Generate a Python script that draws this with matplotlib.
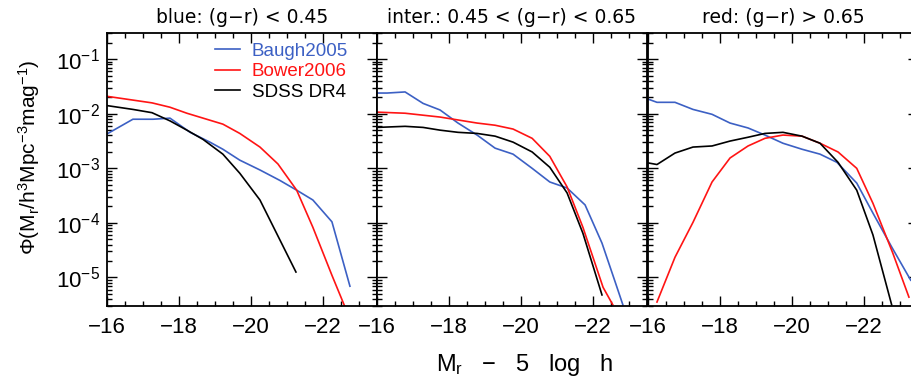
import numpy as np
import matplotlib
matplotlib.use("Agg")
import matplotlib.pyplot as plt
from matplotlib.ticker import MultipleLocator, LogLocator, NullFormatter

plt.rcParams['font.family'] = ['Liberation Sans', 'DejaVu Sans']
plt.rcParams['mathtext.fontset'] = 'custom'
plt.rcParams['mathtext.rm'] = 'Liberation Sans'
plt.rcParams['mathtext.it'] = 'Liberation Sans'

titles = ['blue: (g\u2212r) < 0.45',
          'inter.: 0.45 < (g\u2212r) < 0.65',
          'red: (g\u2212r) > 0.65']

# luminosity functions, log10(Phi)
baugh_mag = [
    [-16.0, -16.72, -17.28, -17.75, -18.31, -18.86, -19.22, -19.69, -20.25,
     -20.8, -21.27, -21.72, -22.25, -22.75],
    [-16.0, -16.28, -16.78, -17.28, -17.75, -18.25, -18.78, -19.28, -19.78,
     -20.31, -20.8, -21.28, -21.78, -22.25, -22.6, -22.83],
    [-16.0, -16.25, -16.75, -17.25, -17.78, -18.28, -18.78, -19.25, -19.75,
     -20.28, -20.78, -21.25, -21.8, -22.25, -22.77, -23.3],
]
baugh_logphi = [
    [-2.37, -2.10, -2.10, -2.08, -2.34, -2.52, -2.65, -2.85, -3.03,
     -3.22, -3.40, -3.58, -3.98, -5.16],
    [-1.62, -1.62, -1.60, -1.81, -1.93, -2.17, -2.39, -2.63, -2.74,
     -3.00, -3.25, -3.36, -3.67, -4.37, -5.05, -5.5],
    [-1.73, -1.79, -1.79, -1.92, -2.01, -2.17, -2.26, -2.39, -2.54,
     -2.65, -2.74, -2.89, -3.27, -3.82, -4.44, -5.05],
]
bower_mag = [
    [-16.0, -17.25, -17.75, -18.22, -18.67, -19.22, -19.69, -20.25, -20.75,
     -21.27, -21.72, -22.25, -22.6],
    [-16.0, -16.78, -17.75, -18.78, -19.28, -19.78, -20.31, -20.8, -21.28,
     -21.72, -22.28, -22.55],
    [-16.25, -16.75, -17.25, -17.78, -18.28, -18.78, -19.25, -19.75, -20.28,
     -20.78, -21.28, -21.8, -22.25, -22.8, -23.25],
]
bower_logphi = [
    [-1.68, -1.80, -1.88, -1.99, -2.08, -2.19, -2.36, -2.61, -2.92,
     -3.40, -4.08, -4.96, -5.52],
    [-1.97, -1.99, -2.06, -2.17, -2.21, -2.28, -2.45, -2.78, -3.34,
     -4.08, -5.18, -5.5],
    [-5.45, -4.63, -3.99, -3.25, -2.81, -2.59, -2.45, -2.39, -2.41,
     -2.54, -2.70, -3.00, -3.64, -4.55, -5.36],
]
sdss_mag = [
    [-16.0, -16.72, -17.25, -17.75, -18.22, -18.67, -19.22, -19.69, -20.25,
     -21.25],
    [-16.0, -16.78, -17.28, -17.75, -18.25, -18.78, -19.28, -19.78, -20.31,
     -20.8, -21.28, -21.72, -22.25],
    [-16.0, -16.25, -16.75, -17.25, -17.78, -18.28, -18.78, -19.25, -19.75,
     -20.28, -20.78, -21.28, -21.8, -22.25, -22.77],
]
sdss_logphi = [
    [-1.85, -1.92, -1.98, -2.13, -2.30, -2.47, -2.74, -3.09, -3.58,
     -4.90],
    [-2.25, -2.23, -2.25, -2.30, -2.34, -2.36, -2.41, -2.52, -2.70,
     -2.98, -3.45, -4.19, -5.32],
    [-2.90, -2.93, -2.72, -2.61, -2.59, -2.50, -2.43, -2.36, -2.34,
     -2.41, -2.54, -2.89, -3.40, -4.22, -5.5],
]

c_baugh = '#3c60c4'
c_bower = '#ff1414'
c_sdss = 'black'

fig = plt.figure(figsize=(9.12, 3.8), dpi=100)
lefts = [0.1173, 0.4134, 0.7105]
axes = []
for i in range(3):
    ax = fig.add_axes([lefts[i], 0.1947, 0.296, 0.718])
    ax.plot(baugh_mag[i], 10 ** np.array(baugh_logphi[i]), color=c_baugh, lw=1.2, label='Baugh2005')
    ax.plot(bower_mag[i], 10 ** np.array(bower_logphi[i]), color=c_bower, lw=1.2, label='Bower2006')
    ax.plot(sdss_mag[i], 10 ** np.array(sdss_logphi[i]), color=c_sdss, lw=1.2, label='SDSS DR4')
    ax.set_yscale('log')
    ax.set_xlim(-16, -23.5)
    ax.set_ylim(3e-6, 0.3)
    ax.xaxis.set_major_locator(MultipleLocator(2))
    ax.xaxis.set_minor_locator(MultipleLocator(0.5))
    ax.yaxis.set_major_locator(LogLocator(base=10, numticks=10))
    ax.yaxis.set_minor_locator(LogLocator(base=10, subs=np.arange(2, 10), numticks=10))
    ax.yaxis.set_minor_formatter(NullFormatter())
    ax.tick_params(which='both', direction='in', top=True, right=True, width=1.0)
    ax.tick_params(which='major', length=7, labelsize=16, pad=8)
    ax.tick_params(which='minor', length=3.5)
    for s in ax.spines.values():
        s.set_linewidth(1.3)
    ax.set_title(titles[i], fontsize=13.5, pad=7, family='DejaVu Sans')
    if i > 0:
        ax.tick_params(axis='y', labelleft=False)
    axes.append(ax)

axes[0].tick_params(axis='y', pad=5)
axes[0].legend(loc='upper left', bbox_to_anchor=(0.4, 0.965), frameon=False,
               fontsize=13.5, handlelength=1.35, handletextpad=0.6,
               labelspacing=0.18, borderpad=0, borderaxespad=0,
               labelcolor='linecolor')

fig.text(0.575, 0.04, 'M$_r$   \u2212   5   log   h', fontsize=17, ha='center', va='center')
fig.text(0.032, 0.587, r'$\Phi$(M$_r$/h$^3$Mpc$^{-3}$mag$^{-1}$)', fontsize=15,
         rotation=90, ha='center', va='center')

plt.savefig('out.png', dpi=100)
